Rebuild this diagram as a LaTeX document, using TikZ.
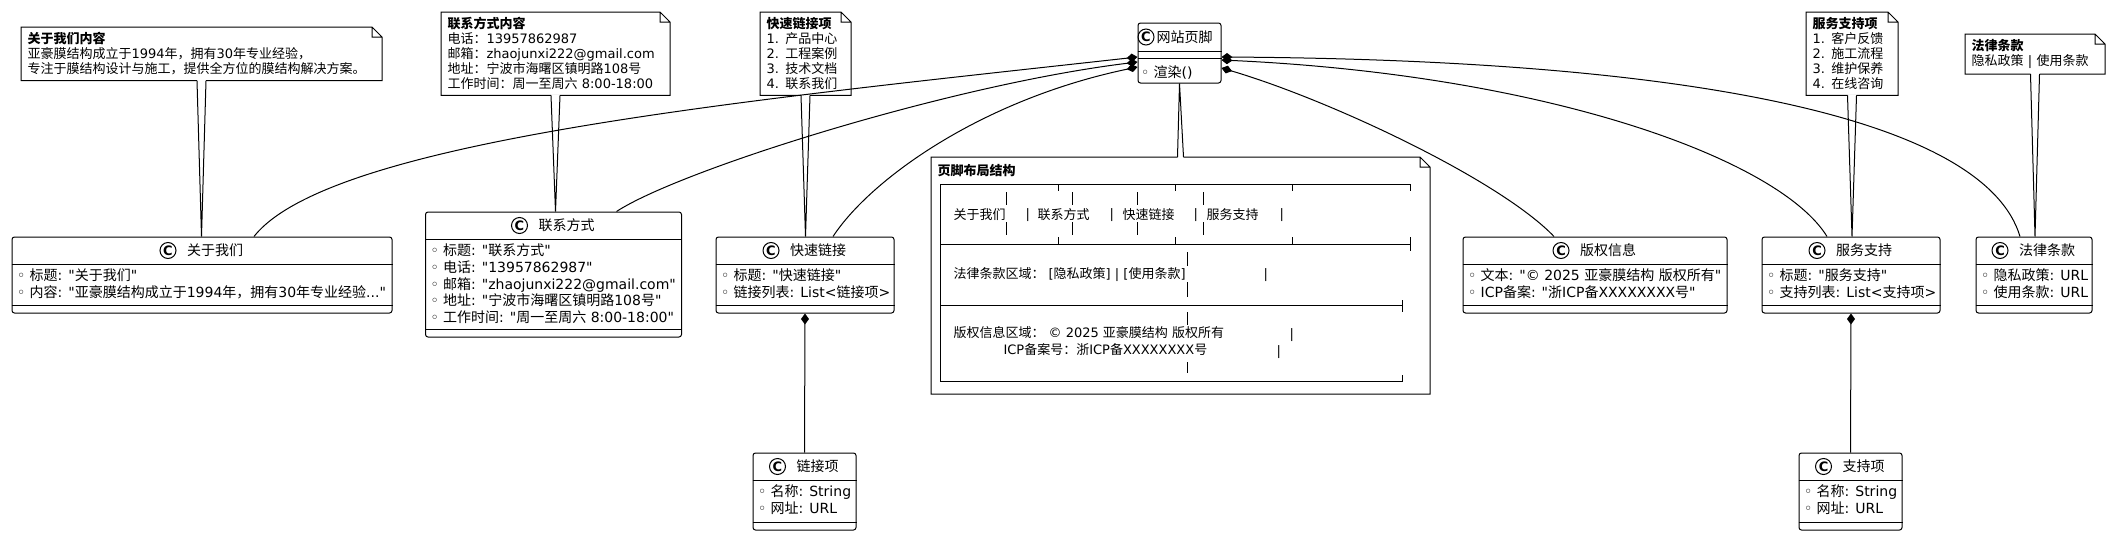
\documentclass[tikz,border=0pt]{standalone}
\usepackage{fontspec}
\setmainfont{DejaVu Sans}[Ligatures=TeXOff]
\newfontfamily\cjk{Noto Sans CJK SC}[Ligatures=TeXOff]
\XeTeXinterchartokenstate=1
\chardef\cjkclass=7
\newcount\cjkcount
\cjkcount="3000
\loop\XeTeXcharclass\cjkcount=\cjkclass \advance\cjkcount by 1 \ifnum\cjkcount<"A000 \repeat
\cjkcount="FF00
\loop\XeTeXcharclass\cjkcount=\cjkclass \advance\cjkcount by 1 \ifnum\cjkcount<"FFF0 \repeat
\XeTeXinterchartoks 0 \cjkclass = {\cjk}
\XeTeXinterchartoks 4095 \cjkclass = {\cjk}
\XeTeXinterchartoks \cjkclass 0 = {\rmfamily}
\XeTeXinterchartoks \cjkclass 4095 = {\rmfamily}
\usepackage{tikz}
\usetikzlibrary{positioning,arrows.meta}
\tikzstyle{uml_class} = [draw, rounded corners=2.5pt, inner sep=0pt]
\tikzstyle{uml_name} = [inner sep=0pt, font=\fontsize{14}{16}\selectfont]
\tikzstyle{uml_icon} = [circle, draw, inner sep=0pt, minimum size=16pt, font=\fontsize{13}{13}\selectfont\bfseries]
\tikzstyle{uml_attr} = [anchor=north west, inner sep=0pt, align=left, font=\fontsize{14}{16.65}\selectfont]
\tikzstyle{uml_note} = [anchor=north west, inner xsep=6pt, inner ysep=5pt, align=left, font=\fontsize{13}{15}\selectfont]
\tikzstyle{edge_comp} = [{Diamond[length=11pt, width=8pt]}-]
\tikzstyle{table_text} = [anchor=west, inner sep=0pt, font=\fontsize{13}{15}\selectfont]

\begin{document}
\begin{tikzpicture}[x=1pt, y=-1pt, line width=1pt]
		\useasboundingbox (0,0) rectangle (2109,536);

		\node (footer) at (1179.5,53) [uml_class, minimum width=83, minimum height=60] {};
		\node (about) at (202,275) [uml_class, minimum width=380, minimum height=76] {};
		\node (contact) at (553.5,274.5) [uml_class, minimum width=256, minimum height=125] {};
		\node (links) at (805,275) [uml_class, minimum width=178, minimum height=76] {};
		\node (copyright) at (1595,275) [uml_class, minimum width=264, minimum height=76] {};
		\node (service) at (1851,275) [uml_class, minimum width=178, minimum height=76] {};
		\node (legal) at (2034,275) [uml_class, minimum width=116, minimum height=76] {};
		\node (linkitem) at (804.5,491.5) [uml_class, minimum width=103, minimum height=77] {};
		\node (supportitem) at (1850.5,491.5) [uml_class, minimum width=103, minimum height=77] {};

		\node (footer_t) at ([xshift=5,yshift=-14.5]footer.north) [uml_name] {网站页脚};
		\node (footer_i) [uml_icon, left=1.5pt of footer_t] {C};
		\draw ([yshift=-29]footer.north west) -- ([yshift=-29]footer.north east) ([yshift=-36]footer.north west) -- ([yshift=-36]footer.north east);
		\node (footer_a) at ([xshift=3,yshift=-42.5]footer.north west) [uml_attr] {◦ 渲染()};

		\foreach \cls/\cname in {about/关于我们, contact/联系方式, links/快速链接, copyright/版权信息, service/服务支持, legal/法律条款, linkitem/链接项, supportitem/支持项} {
			\node (\cls_t) at ([xshift=13,yshift=-14]\cls.north) [uml_name] {\cname};
			\node (\cls_i) [uml_icon, left=10pt of \cls_t] {C};
			\draw ([yshift=-28]\cls.north west) -- ([yshift=-28]\cls.north east) ([yshift=8]\cls.south west) -- ([yshift=8]\cls.south east);
		}

		\node (about_a) at ([xshift=5,yshift=-32]about.north west) [uml_attr] {◦ 标题: "关于我们"\\◦ 内容: "亚豪膜结构成立于1994年，拥有30年专业经验..."};
		\node (contact_a) at ([xshift=5,yshift=-32]contact.north west) [uml_attr] {◦ 标题: "联系方式"\\◦ 电话: "13957862987"\\◦ 邮箱: "zhaojunxi222@gmail.com"\\◦ 地址: "宁波市海曙区镇明路108号"\\◦ 工作时间: "周一至周六 8:00-18:00"};
		\node (links_a) at ([xshift=5,yshift=-32]links.north west) [uml_attr] {◦ 标题: "快速链接"\\◦ 链接列表: List<链接项>};
		\node (copyright_a) at ([xshift=5,yshift=-32]copyright.north west) [uml_attr] {◦ 文本: "© 2025 亚豪膜结构 版权所有"\\◦ ICP备案: "浙ICP备XXXXXXXX号"};
		\node (service_a) at ([xshift=5,yshift=-32]service.north west) [uml_attr] {◦ 标题: "服务支持"\\◦ 支持列表: List<支持项>};
		\node (legal_a) at ([xshift=5,yshift=-32]legal.north west) [uml_attr] {◦ 隐私政策: URL\\◦ 使用条款: URL};
		\node (linkitem_a) at ([xshift=5,yshift=-32]linkitem.north west) [uml_attr] {◦ 名称: String\\◦ 网址: URL};
		\node (supportitem_a) at ([xshift=5,yshift=-32]supportitem.north west) [uml_attr] {◦ 名称: String\\◦ 网址: URL};

		\node (nAbout) at (21,27) [uml_note, text width=348] {\textbf{关于我们内容}\\亚豪膜结构成立于1994年，拥有30年专业经验，\\专注于膜结构设计与施工，提供全方位的膜结构解决方案。};
		\node (nContact) at (441,12) [uml_note, text width=216] {\textbf{联系方式内容}\\电话：13957862987\\邮箱：zhaojunxi222@gmail.com\\地址：宁波市海曙区镇明路108号\\工作时间：周一至周六 8:00-18:00};
		\node (nLinks) at (760,12) [uml_note, text width=78] {\textbf{快速链接项}\\1. 产品中心\\2. 工程案例\\3. 技术文档\\4. 联系我们};
		\node (nService) at (1806,12) [uml_note, text width=79] {\textbf{服务支持项}\\1. 客户反馈\\2. 施工流程\\3. 维护保养\\4. 在线咨询};
		\node (nLegal) at (1965,34) [uml_note, text width=127] {\textbf{法律条款}\\隐私政策 | 使用条款};
		\node (nLayout) at (931,157) [uml_note, inner sep=0pt, minimum width=498, minimum height=236] {};
		\node (nLayout_t) at ([xshift=6,yshift=-6.5]nLayout.north west) [uml_note, inner sep=0pt] {\textbf{页脚布局结构}};

		\foreach \n in {nAbout, nContact, nLinks, nService, nLegal, nLayout}
			\draw (\n.north west) -- ([xshift=-10]\n.north east) -- ([yshift=-10]\n.north east) -- (\n.south east) -- (\n.south west) -- cycle
				([xshift=-10]\n.north east) |- ([yshift=-10]\n.north east);

		\foreach \n/\cls in {nAbout/about, nContact/contact, nLinks/links, nService/service, nLegal/legal} {
			\fill[white] ([xshift=-4.5,yshift=1]\n.south) -- (\n.south |- \cls.north) -- ([xshift=4.5,yshift=1]\n.south) -- cycle;
			\draw ([xshift=-4.5]\n.south) -- (\n.south |- \cls.north) -- ([xshift=4.5]\n.south);
		}
		\fill[white] ([xshift=-3,yshift=-1]nLayout.north) -- (footer.south) -- ([xshift=3,yshift=-1]nLayout.north) -- cycle;
		\draw ([xshift=-3]nLayout.north) -- (footer.south) -- ([xshift=3]nLayout.north);

		\begin{scope}[line width=0.8pt]
			\draw (940,184) -- (1410,184) (940,244) -- (1410,244) (940,305.7) -- (1402,305.7) (940,381.7) -- (1402,381.7) (940,184) -- (940,381.7);
			\foreach \x in {1058,1175,1292,1410}
				\draw (\x,184) -- (\x,191) (\x,237) -- (\x,244);
			\draw (1410,244) -- (1410,251) (1402,300) -- (1402,312) (1402,375) -- (1402,381.7);
			\foreach \x in {1006,1072,1137,1203}
				\draw (\x,192) -- (\x,205) (\x,222) -- (\x,235);
			\draw (1187,252) -- (1187,266) (1187,282) -- (1187,297) (1187,312) -- (1187,325) (1187,362) -- (1187,373);
		\end{scope}
		\foreach \x/\t [count=\i] in {953/关于我们, 1025/|, 1037/联系方式, 1109/|, 1122/快速链接, 1193/|, 1206/服务支持, 1279/|}
			\node (cell\i) at (\x,215) [table_text] {\t};
		\node (legalRow) at (953,275) [table_text] {法律条款区域： [隐私政策] | [使用条款]};
		\node (legalBar) at (1263,275) [table_text] {|};
		\node (copyRow) at (953,333) [table_text] {版权信息区域： © 2025 亚豪膜结构 版权所有};
		\node (icpRow) at (1003,350) [table_text] {ICP备案号：浙ICP备XXXXXXXX号};
		\node (copyBar) at (1289,335) [table_text] {|};
		\node (icpBar) at (1276,352) [table_text] {|};

		\draw[edge_comp] ([yshift=-4]footer.west) .. controls (750,100) and (330,140) .. ([xshift=52]about.north);
		\draw[edge_comp] ([yshift=-9]footer.west) .. controls (950,85) and (680,170) .. ([xshift=63]contact.north);
		\draw[edge_comp] ([yshift=-14]footer.west) .. controls (980,100) and (870,180) .. ([xshift=28]links.north);
		\draw[edge_comp] ([yshift=-15]footer.east) .. controls (1330,100) and (1500,180) .. ([xshift=-41]copyright.north);
		\draw[edge_comp] ([yshift=-7]footer.east) .. controls (1550,75) and (1780,160) .. ([xshift=-24]service.north);
		\draw[edge_comp] ([yshift=-4]footer.east) .. controls (1700,60) and (1985,120) .. ([xshift=-14]legal.north);
		\draw[edge_comp] (links.south) -- (linkitem.north);
		\draw[edge_comp] (service.south) -- (supportitem.north);
\end{tikzpicture}
\end{document}
